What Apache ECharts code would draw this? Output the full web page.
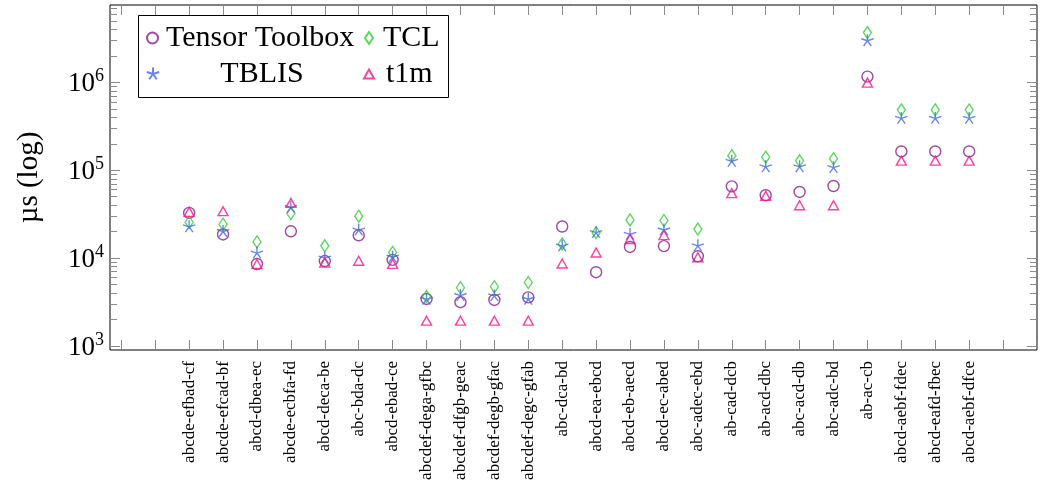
<!DOCTYPE html>
<html><head><meta charset="utf-8">
<script src="https://cdn.jsdelivr.net/npm/echarts@6/dist/echarts.min.js"></script>
<style>html,body{margin:0;padding:0;background:#fff}#c{width:1042px;height:488px}</style>
</head><body><div id="c"></div>
<script>
const categories = ['abcde-efbad-cf','abcde-efcad-bf','abcd-dbea-ec','abcde-ecbfa-fd','abcd-deca-be','abc-bda-dc','abcd-ebad-ce','abcdef-dega-gfbc','abcdef-dfgb-geac','abcdef-degb-gfac','abcdef-degc-gfab','abc-dca-bd','abcd-ea-ebcd','abcd-eb-aecd','abcd-ec-abed','abc-adec-ebd','ab-cad-dcb','ab-acd-dbc','abc-acd-db','abc-adc-bd','ab-ac-cb','abcd-aebf-fdec','abcd-eafd-fbec','abcd-aebf-dfce'];
const tensorToolbox = [32700,18600,8570,20200,9270,18200,9550,3430,3150,3340,3570,22900,6910,13400,13700,10500,65600,52000,56600,66200,1164000,163700,163700,163700];
const tcl = [25600,24300,15300,32200,13800,30000,11600,3650,4600,4720,5280,14500,19500,27200,26800,21400,146600,141000,128000,135600,3690000,487000,487000,487000];
const tblis = [22700,20100,11400,37700,10000,20800,10240,3390,3750,3710,3400,13700,19500,18600,20900,13800,126200,109300,109300,107000,2980000,389000,389000,389000];
const t1m = [33600,34200,8570,42500,8870,9340,8590,1940,1940,1940,1940,8680,11580,16500,18300,10240,54900,51100,40000,40000,995000,128600,128600,128600];
const yMajorTicks = [1e3, 1e4, 1e5, 1e6];
const yLabelExponents = ['3','4','5','6'];

const yMinorTicks = [];
for (const d of [1e2, 1e3, 1e4, 1e5, 1e6]) for (let k = 2; k <= 9; k++) yMinorTicks.push(k * d);
const xTickValues = [];
for (let i = -1; i <= 26; i++) xTickValues.push(i);
const xLabelValues = categories.map((c, i) => i + 1);

const FONT = 'Liberation Serif';
const YMIN = 900, YMAX = 7.6e6, XMIN = -4/3, XMAX = 26;
const tickColor = '#8a8a8a';
const starPath = 'path://M0 0L0 -1M0 0L0.951 -0.309M0 0L-0.951 -0.309M0 0L-0.588 0.809M0 0L0.588 0.809M-1 -1M1 1';

const seriesDefs = [
  {name: 'Tensor Toolbox', data: tensorToolbox, symbol: 'circle', size: 11, color: '#8a1a8a'},
  {name: 'TCL', data: tcl, symbol: 'diamond', size: [8, 12], color: '#33cc33'},
  {name: 'TBLIS', data: tblis, symbol: starPath, size: 13, color: '#4169e1'},
  {name: 't1m', data: t1m, symbol: 'triangle', size: [10, 9], color: '#f5158a'}
];

const chart = echarts.init(document.getElementById('c'));
const yBase = {type: 'log', min: YMIN, max: YMAX, axisLine: {show: false, onZero: false}, splitLine: {show: false}, minorTick: {show: false}};
const tickStyle = {color: tickColor, width: 1};

const legendText = {fontFamily: FONT, fontSize: 30, color: '#000', lineHeight: 30};
function legendFor(name, left, top, w, h, extra) {
  return Object.assign({
    data: [name], left: left, top: top, padding: 0, itemWidth: w, itemHeight: h,
    selectedMode: false, textStyle: Object.assign({}, legendText)
  }, extra || {});
}

chart.setOption({
  animation: false,
  grid: {left: 110, right: 5, top: 5, bottom: 138, show: true, borderColor: '#000', borderWidth: 1, backgroundColor: 'transparent'},
  xAxis: [
    {type: 'value', min: XMIN, max: XMAX, position: 'bottom', axisLine: {show: false, onZero: false}, splitLine: {show: false},
     axisTick: {show: true, inside: true, length: 10, lineStyle: tickStyle, customValues: xTickValues},
     axisLabel: {show: true, customValues: xLabelValues, rotate: 90, margin: 11, fontFamily: FONT, fontSize: 17, color: '#000',
       formatter: v => categories[Math.round(v) - 1] || ''}},
    {type: 'value', min: XMIN, max: XMAX, position: 'top', axisLine: {show: false, onZero: false}, splitLine: {show: false},
     axisTick: {show: true, inside: true, length: 10, lineStyle: tickStyle, customValues: xTickValues},
     axisLabel: {show: false}}
  ],
  yAxis: [
    Object.assign({}, yBase, {position: 'left', name: 'µs (log)', nameLocation: 'middle', nameRotate: 90, nameGap: 66,
      nameTextStyle: {fontFamily: FONT, fontSize: 29, color: '#000'},
      axisTick: {show: true, inside: true, length: 10, lineStyle: tickStyle, customValues: yMajorTicks},
      axisLabel: {show: true, customValues: yMajorTicks, margin: 6,
        formatter: v => '{b|10}{s|' + yLabelExponents[yMajorTicks.indexOf(v)] + '}',
        rich: {b: {fontFamily: FONT, fontSize: 27, color: '#000', verticalAlign: 'bottom', lineHeight: 30},
               s: {fontFamily: FONT, fontSize: 18, color: '#000', verticalAlign: 'top', lineHeight: 30}}}}),
    Object.assign({}, yBase, {position: 'left',
      axisTick: {show: true, inside: true, length: 7, lineStyle: tickStyle, customValues: yMinorTicks},
      axisLabel: {show: false}}),
    Object.assign({}, yBase, {position: 'right',
      axisTick: {show: true, inside: true, length: 10, lineStyle: tickStyle, customValues: yMajorTicks},
      axisLabel: {show: false}}),
    Object.assign({}, yBase, {position: 'right',
      axisTick: {show: true, inside: true, length: 7, lineStyle: tickStyle, customValues: yMinorTicks},
      axisLabel: {show: false}})
  ],
  legend: [
    legendFor('Tensor Toolbox', 146, 23, 11, 11, {textStyle: Object.assign({}, legendText, {padding: [0, 0, 0, 3]})}),
    legendFor('TCL', 364, 23, 8, 12, {textStyle: Object.assign({}, legendText, {padding: [0, 0, 0, 5]})}),
    legendFor('TBLIS', 145.5, 59, 13, 13, {formatter: '{w|{name}}',
      textStyle: Object.assign({}, legendText, {rich: {w: {width: 195, align: 'center', fontFamily: FONT, fontSize: 30, color: '#000', lineHeight: 30}}})}),
    legendFor('t1m', 363, 59, 10, 9, {textStyle: Object.assign({}, legendText, {padding: [0, 0, 0, 7]})})
  ],
  graphic: [{type: 'rect', z: 3, shape: {x: 138.5, y: 15.5, width: 310, height: 82}, style: {fill: '#fff', stroke: '#000', lineWidth: 1}}],
  series: seriesDefs.map(s => ({
    type: 'scatter', name: s.name, xAxisIndex: 0, yAxisIndex: 0,
    data: s.data.map((v, i) => [i + 1, v]),
    symbol: s.symbol, symbolSize: s.size,
    itemStyle: {color: 'rgba(0,0,0,0)', borderColor: s.color, borderWidth: 1.4},
    emphasis: {disabled: true}
  }))
});
</script></body></html>
